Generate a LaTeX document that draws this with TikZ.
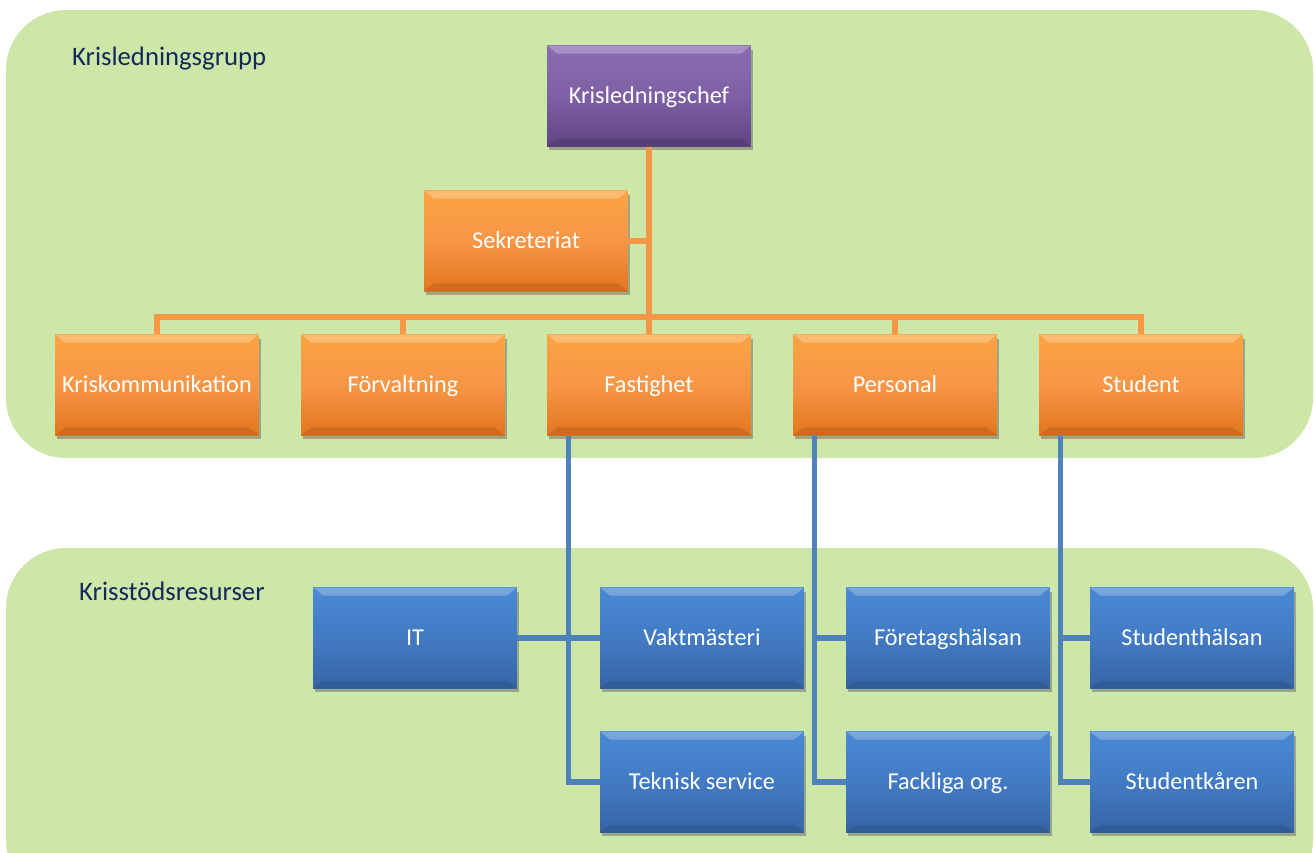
\documentclass[tikz,border=0pt]{standalone}
\usepackage{fontspec}
\setmainfont{Carlito}
\usepackage{tikz}
\usepackage{xcolor}
\usetikzlibrary{shadows}
\definecolor{panelgreen}{HTML}{CDE7A9}
\definecolor{navytext}{HTML}{13295B}
\definecolor{orline}{HTML}{F79646}
\definecolor{blline}{HTML}{4F81BD}
\definecolor{ortop}{HTML}{FBA443}
\definecolor{orbot}{HTML}{E2761E}
\definecolor{putop}{HTML}{8B6CB3}
\definecolor{pubot}{HTML}{5F4483}
\definecolor{bltop}{HTML}{4A89D6}
\definecolor{blbot}{HTML}{3665A6}
\tikzstyle{box} = [rectangle, minimum width=4.08cm, minimum height=2.02cm, inner sep=0pt,
  text=white, font=\fontsize{13.8}{16}\selectfont, text height=2.2ex, text depth=.36ex,
  drop shadow={shadow xshift=0.04cm, shadow yshift=-0.08cm, fill=black!60, opacity=.5},
  path picture={\fill[white,opacity=.25] (path picture bounding box.north west) -- (path picture bounding box.north east)
    -- ([xshift=-0.2cm,yshift=-0.16cm]path picture bounding box.north east) -- ([xshift=0.2cm,yshift=-0.16cm]path picture bounding box.north west) -- cycle;
    \fill[black,opacity=.1] (path picture bounding box.south west) -- (path picture bounding box.south east)
    -- ([xshift=-0.2cm,yshift=0.16cm]path picture bounding box.south east) -- ([xshift=0.2cm,yshift=0.16cm]path picture bounding box.south west) -- cycle;}]
\tikzstyle{orangebox} = [box, top color=ortop, bottom color=orbot, middle color=orline]
\tikzstyle{purplebox} = [box, top color=putop, bottom color=pubot, middle color=putop!70!pubot]
\tikzstyle{bluebox} = [box, top color=bltop, bottom color=blbot, middle color=bltop!60!blbot]
\tikzstyle{panel} = [fill=panelgreen, rounded corners=1.2cm]
\tikzstyle{grouplabel} = [anchor=west, text=navytext, font=\fontsize{15.2}{18}\selectfont]

\begin{document}
\begin{tikzpicture}[x=0.02cm, y=-0.02cm]
\useasboundingbox (0,0) rectangle (1315,852);
\fill[white] (0,0) rectangle (1315,852);
\path[panel] (6,10) rectangle (1313,458);
\path[panel] (6,548) rectangle (1313,900);
\node[grouplabel] (grp) at (66,59) {Krisledningsgrupp};
\node[grouplabel] (res) at (73,591) {Krisstödsresurser};

\node[purplebox] (chef) at (649,96) {Krisledningschef};
\node[orangebox] (sek) at (526,241) {Sekreteriat};
\node[orangebox] (kom) at (157,385) {Kriskommunikation};
\node[orangebox] (forv) at (403,385) {Förvaltning};
\node[orangebox] (fast) at (649,385) {Fastighet};
\node[orangebox] (pers) at (895,385) {Personal};
\node[orangebox] (stud) at (1141,385) {Student};

\node[bluebox] (it) at (415,638) {IT};
\node[bluebox] (vakt) at (702,638) {Vaktmästeri};
\node[bluebox] (tek) at (702,782) {Teknisk service};
\node[bluebox] (fh) at (948,638) {Företagshälsan};
\node[bluebox] (fack) at (948,782) {Fackliga org.};
\node[bluebox] (sh) at (1192,638) {Studenthälsan};
\node[bluebox] (sk) at (1192,782) {Studentkåren};

\coordinate (bus) at (649,317);

\draw[orline, line width=3.2pt] (chef.south) -- (fast.north);
\draw[orline, line width=3.2pt] (sek.east) -- (sek.east -| chef.south);
\draw[orline, line width=3.2pt] (kom.north) |- (bus) -| (stud.north);
\foreach \to in {forv,pers}
{
	\draw[orline, line width=3.2pt] (\to.north) -- (\to.north |- bus);
}

\draw[blline, line width=3pt] (it.east) -- (vakt.west);
\foreach \from/\a/\b in {fast/vakt/tek,pers/fh/fack,stud/sh/sk}
{
	\coordinate (s\from) at ([xshift=0.44cm]\from.south west);
	\draw[blline, line width=3pt] (s\from) |- (\b.west);
	\draw[blline, line width=3pt] (\a.west) -- (\a.west -| s\from);
}
\end{tikzpicture}
\end{document}
